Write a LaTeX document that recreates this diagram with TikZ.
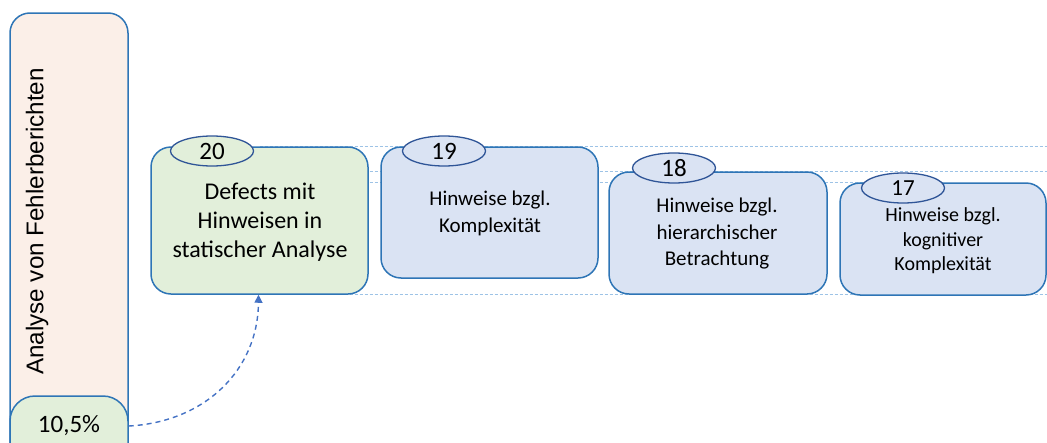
\documentclass[tikz,border=0pt]{standalone}
\usepackage{fontspec}
\setmainfont{Carlito}
\newfontfamily\arialfont{Liberation Sans}
\usetikzlibrary{arrows.meta,backgrounds,shapes.geometric}

\definecolor{frameblue}{HTML}{2E75B6}
\definecolor{ovalblue}{HTML}{2F5597}
\definecolor{peach}{HTML}{FBEFE8}
\definecolor{mint}{HTML}{E2EFDA}
\definecolor{lavender}{HTML}{DAE3F3}
\definecolor{guide}{HTML}{9DC3E6}
\definecolor{arrowblue}{HTML}{4472C4}

\tikzset{
  panel/.style={draw=frameblue, line width=1.5pt, rounded corners=20pt,
    inner sep=0pt, rectangle},
  badge/.style={ellipse, draw=ovalblue, line width=1.3pt, inner sep=0pt,
    minimum width=83pt, minimum height=30pt,
    font=\fontsize{25}{25}\selectfont},
  caption/.style={align=center, inner sep=0pt, text=black},
  guideline/.style={draw=guide, line width=0.6pt, dash pattern=on 3pt off 2pt},
  link/.style={draw=arrowblue, line width=1.4pt, dash pattern=on 5pt off 4pt,
    -{Triangle[width=8pt,length=8pt]}},
}

\begin{document}
\begin{tikzpicture}[x=1pt,y=-1pt]
  \useasboundingbox (0,0) rectangle (1047,442);
  \clip (0,0) rectangle (1047,442);
  \coordinate (rim) at (1047,0);

  % left column: analysis of bug reports
  \node[panel, fill=peach, minimum width=118pt, minimum height=457pt]
    (lbox) at (69,241.5) {};
  \node[rotate=90, inner sep=0pt, font=\arialfont\fontsize{24.2}{24}\selectfont]
    (ltext) at (37,221.5) {Analyse von Fehlerberichten};
  \node[panel, fill=mint, rounded corners=25pt, minimum width=118pt,
    minimum height=80pt] (pctbox) at (69,436) {};
  \node[caption, font=\fontsize{25}{25}\selectfont] (pcttext) at (69,426) {10,5\%};

  % category boxes
  \node[panel, fill=mint, minimum width=217pt, minimum height=147pt]
    (box20) at (259.5,220.5) {};
  \node[caption, font=\fontsize{24}{29}\selectfont] (t20) at (260,222)
    {Defects mit\\Hinweisen in\\statischer Analyse};
  \node[badge, fill=mint] (n20) at (212,151) {20};

  \node[panel, fill=lavender, minimum width=217pt, minimum height=131pt]
    (box19) at (489.5,212.5) {};
  \node[caption, font=\fontsize{21}{27}\selectfont] (t19) at (490,213)
    {Hinweise bzgl.\\Komplexität};
  \node[badge, fill=lavender] (n19) at (444,151) {19};

  \node[panel, fill=lavender, minimum width=218pt, minimum height=122pt]
    (box18) at (718,233) {};
  \node[caption, font=\fontsize{21}{26.5}\selectfont] (t18) at (717,234)
    {Hinweise bzgl.\\hierarchischer\\Betrachtung};
  \node[badge, fill=lavender] (n18) at (674,168) {18};

  \node[panel, fill=lavender, minimum width=206pt, minimum height=112pt]
    (box17) at (943,239) {};
  \node[caption, font=\fontsize{20}{24.5}\selectfont] (t17) at (943,241)
    {Hinweise bzgl.\\kognitiver\\Komplexität};
  \node[badge, fill=lavender, font=\fontsize{23}{23}\selectfont] (n17) at (903,188) {17};

  % guide lines behind the boxes
  \begin{scope}[on background layer]
    \draw[guideline] (box20.center |- box20.north) -- (rim |- box20.north);
    \draw[guideline] (box20.center |- box18.north) -- (rim |- box18.north);
    \draw[guideline] (box20.center |- box17.north) -- (box17.center |- box17.north);
    \draw[guideline] (box20.center |- box20.south) -- (rim |- box20.south);
  \end{scope}

  % share link
  \draw[link] (pctbox.east |- pcttext.center)
    .. controls (205,422) and (258,370) .. ([xshift=-1pt]box20.south);
\end{tikzpicture}
\end{document}
